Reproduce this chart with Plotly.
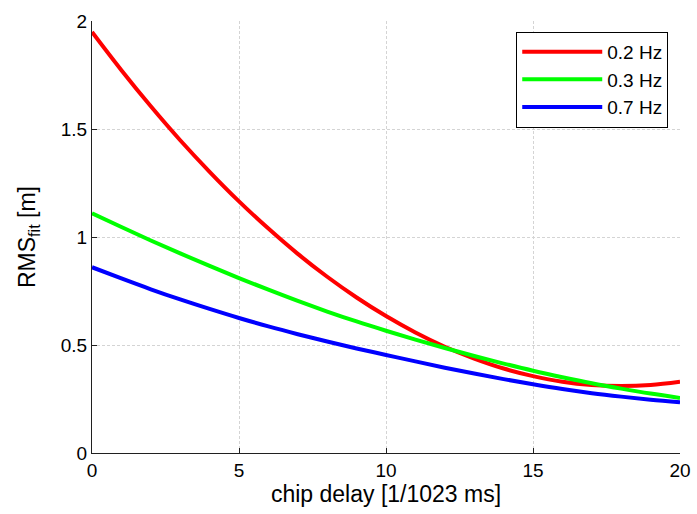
import plotly.graph_objects as go

delay = list(range(0, 21))
rms_02 = [1.949, 1.772, 1.605, 1.448, 1.302, 1.165, 1.039, 0.922, 0.816, 0.720, 0.634,
          0.558, 0.492, 0.437, 0.391, 0.356, 0.330, 0.315, 0.310, 0.315, 0.330]
rms_03 = [1.110, 1.046, 0.984, 0.924, 0.866, 0.810, 0.756, 0.704, 0.655, 0.609, 0.566,
          0.525, 0.486, 0.449, 0.414, 0.381, 0.351, 0.323, 0.298, 0.275, 0.255]
rms_07 = [0.860, 0.808, 0.758, 0.711, 0.667, 0.625, 0.586, 0.550, 0.516, 0.484, 0.454,
          0.424, 0.395, 0.368, 0.342, 0.318, 0.296, 0.277, 0.261, 0.247, 0.235]
names = ["0.2 Hz", "0.3 Hz", "0.7 Hz"]
colors = ["#ff0000", "#00ff00", "#0000ff"]

fig = go.Figure()
for ys, n, c in zip([rms_02, rms_03, rms_07], names, colors):
    fig.add_trace(go.Scatter(x=delay, y=ys, name=n, mode="lines",
                             line=dict(color=c, width=4, shape="spline", smoothing=1.0)))

font = dict(family="Liberation Sans, Arial, sans-serif", size=19, color="black")
grid = dict(showgrid=True, gridcolor="#d4d4d4", griddash="3px,2px", gridwidth=1,
            zeroline=False, showline=True, linecolor="#202020", linewidth=1,
            ticks="inside", ticklen=5, tickcolor="#202020", mirror=False,
            automargin=False)
fig.update_layout(
    width=697, height=514,
    margin=dict(l=92, r=17, t=21, b=61, autoexpand=False),
    paper_bgcolor="white", plot_bgcolor="white",
    font=font,
    showlegend=True,
    legend=dict(x=0.98, y=0.975, xanchor="right", yanchor="top",
                bordercolor="black", borderwidth=1, bgcolor="white",
                font=dict(size=19), itemwidth=80, tracegroupgap=0),
)
fig.update_xaxes(range=[0, 20], tickvals=[0, 5, 10, 15, 20],
                 title=dict(text="chip delay [1/1023 ms]", standoff=6), **grid)
fig.update_yaxes(range=[0, 2], tickvals=[0, 0.5, 1, 1.5, 2],
                 ticktext=["0", "0.5", "1", "1.5", "2"],
                 title=dict(text="RMS<sub>fit</sub> [m]", standoff=18), **grid)
fig.write_html("out.html")
